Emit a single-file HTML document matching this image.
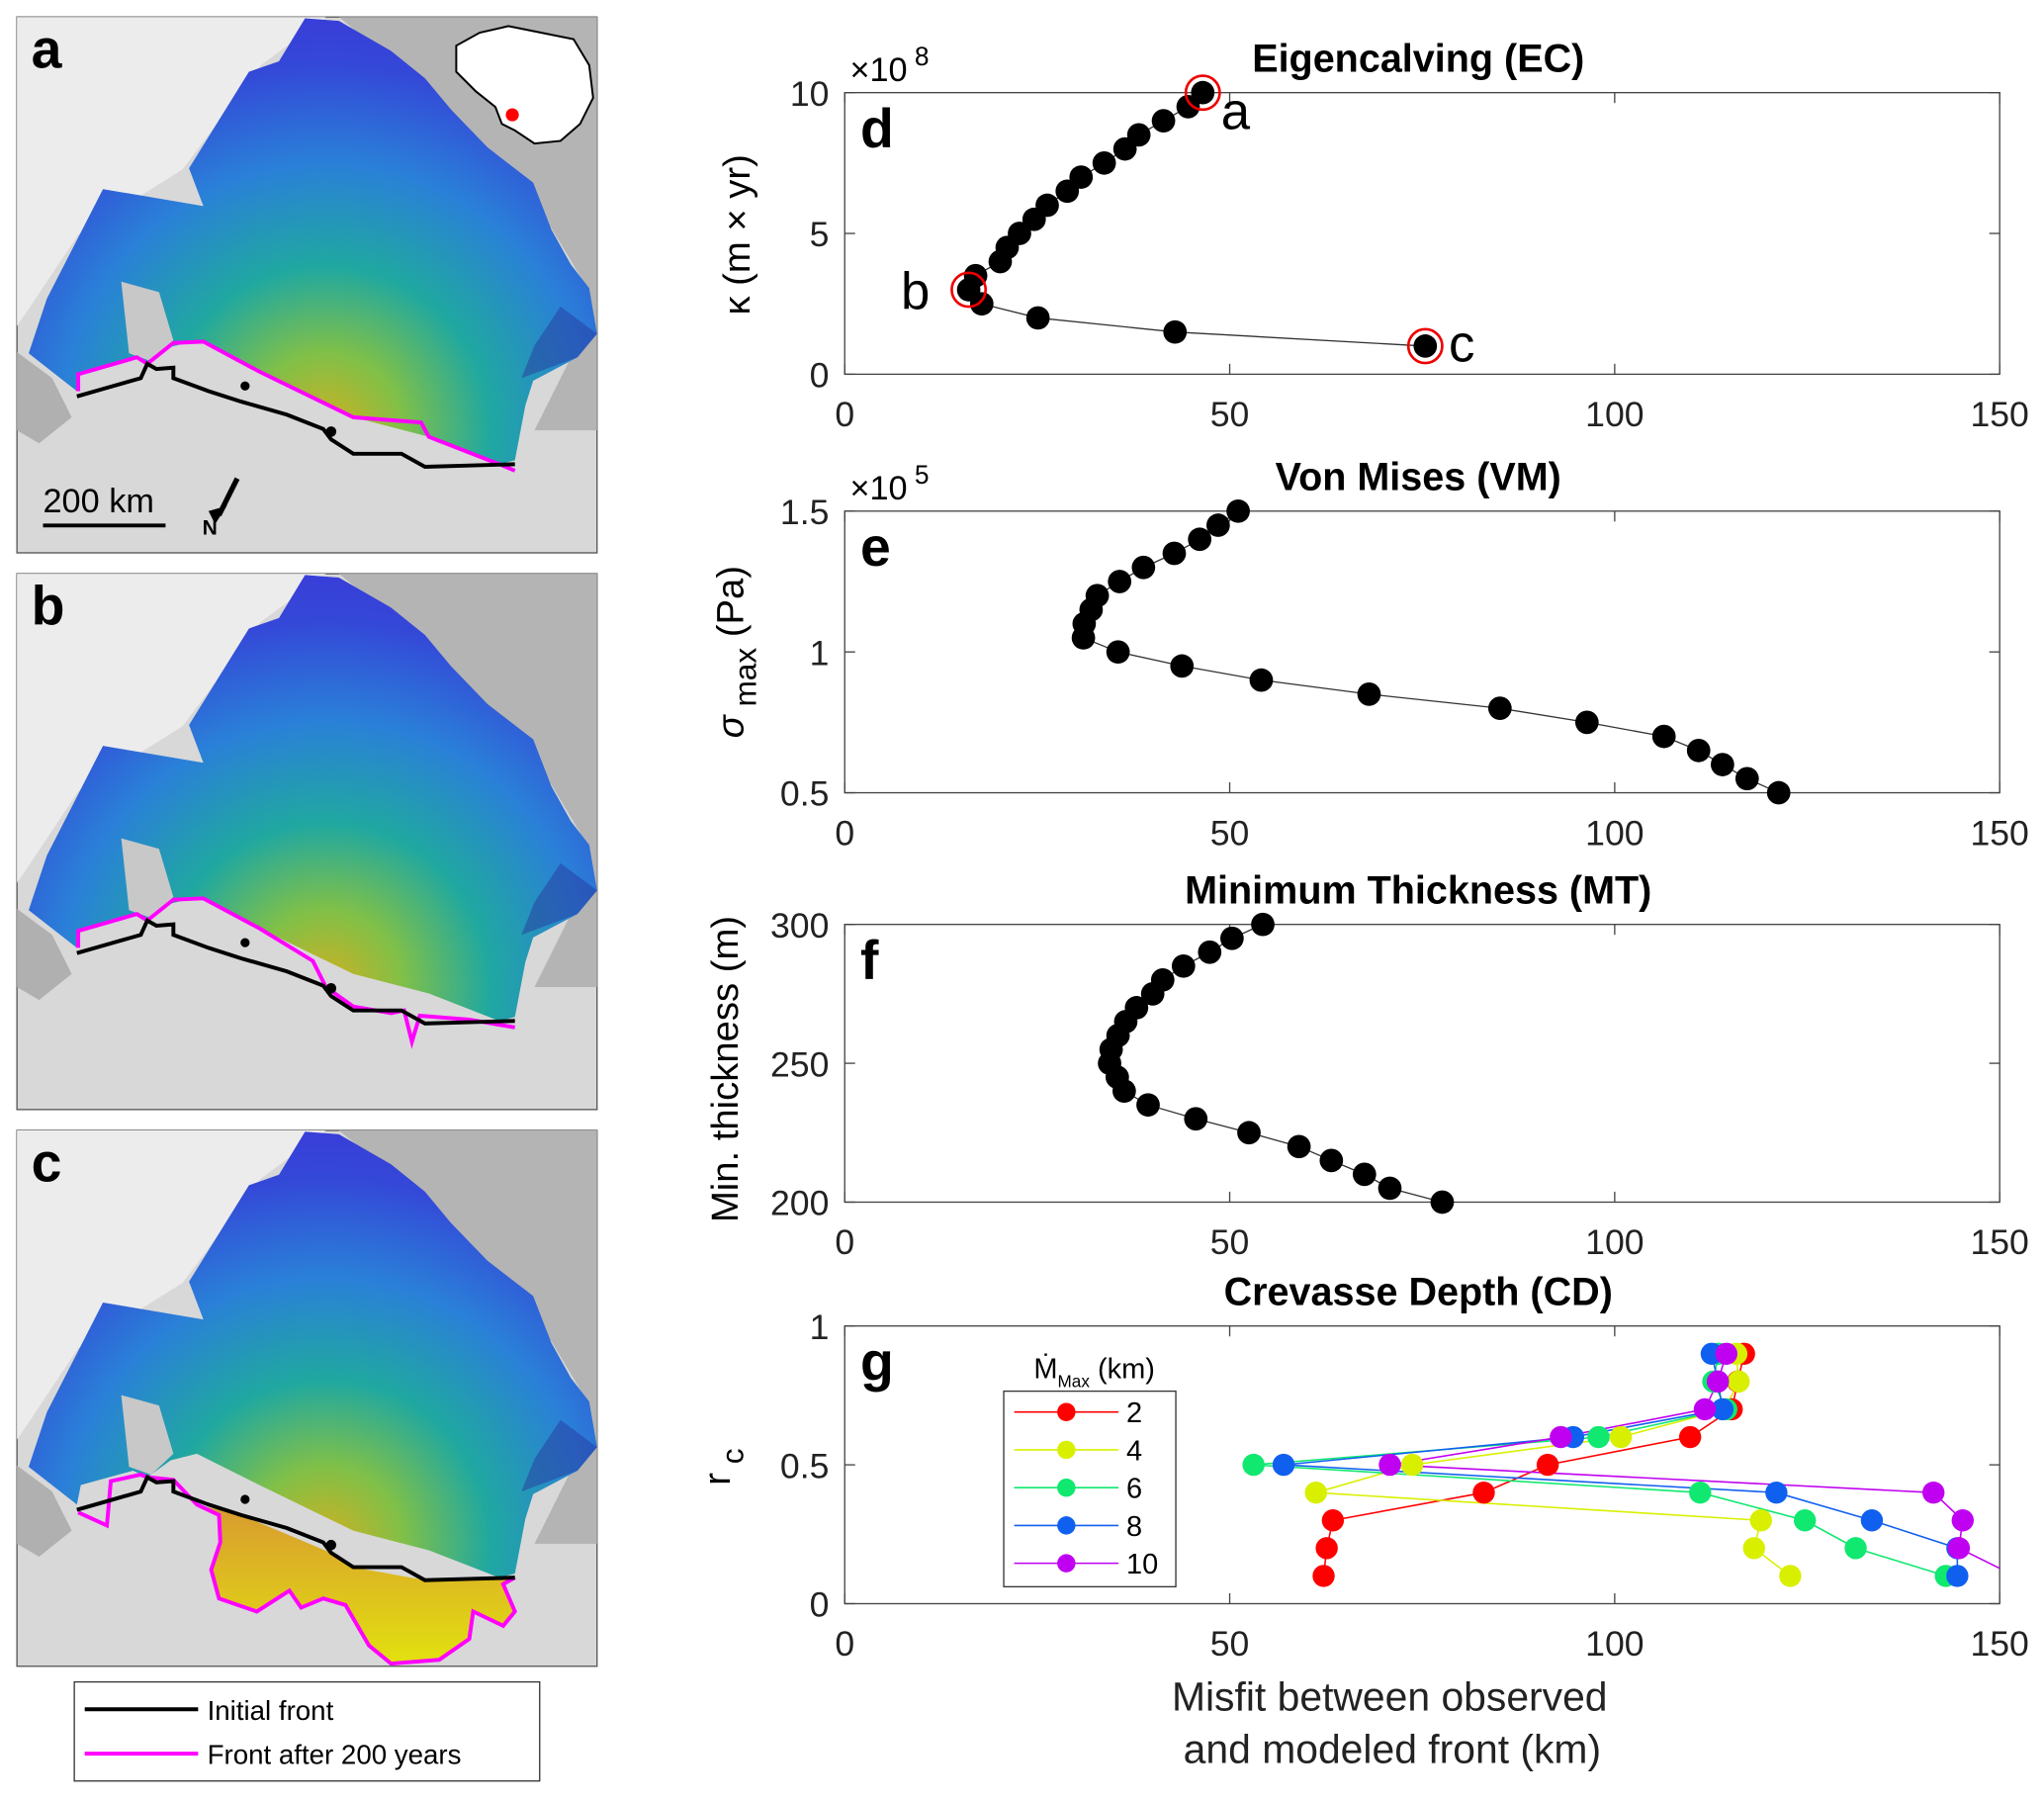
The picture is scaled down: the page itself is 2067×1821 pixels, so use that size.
<!DOCTYPE html>
<html><head><meta charset="utf-8"><style>
html,body{margin:0;padding:0;background:#fff}
svg{display:block;font-family:"Liberation Sans",sans-serif}
</style></head><body>
<svg id="fig" width="2067" height="1821" viewBox="0 0 1568 1381.3" xmlns="http://www.w3.org/2000/svg">
<defs>
<radialGradient id="ice" cx="250" cy="330" r="330" gradientUnits="userSpaceOnUse">
<stop offset="0" stop-color="#d0b020"/><stop offset="0.18" stop-color="#80c048"/><stop offset="0.38" stop-color="#20a8a0"/><stop offset="0.62" stop-color="#2a80d8"/><stop offset="0.85" stop-color="#3448d8"/><stop offset="1" stop-color="#3a3ad8"/></radialGradient>
<linearGradient id="bulge" x1="0" y1="300" x2="0" y2="420" gradientUnits="userSpaceOnUse"><stop offset="0" stop-color="#d89a30"/><stop offset="1" stop-color="#e2e010"/></linearGradient>
<clipPath id="cg"><rect x="648" y="1017" width="886" height="213"/></clipPath>
</defs>
<g id="maps"></g>
<g>
<rect x="57" y="1290" width="357" height="76" fill="#fff" stroke="#333" stroke-width="1"/>
<line x1="65" y1="1311" x2="152" y2="1311" stroke="#000" stroke-width="3"/>
<text x="159" y="1319" font-size="21">Initial front</text>
<line x1="65" y1="1345" x2="152" y2="1345" stroke="#f0f" stroke-width="3"/>
<text x="159" y="1353" font-size="21">Front after 200 years</text>
</g>
<g id="charts"></g>
</svg>
<script>
// ---- chart data ----
const dX=[46.5,44.6,41.4,38.2,36.4,33.7,30.7,28.9,26.3,24.6,22.7,21.1,20.2,17.0,16.1,17.8,25.1,42.9,75.4];
const dY=[10,9.5,9,8.5,8,7.5,7,6.5,6,5.5,5,4.5,4,3.5,3,2.5,2,1.5,1];
const eX=[51.1,48.5,46.1,42.8,38.8,35.7,32.8,32.0,31.1,31.0,35.5,43.8,54.1,68.1,85.1,96.4,106.4,110.9,114.0,117.2,121.3];
const eY=[1.5,1.45,1.4,1.35,1.3,1.25,1.2,1.15,1.1,1.05,1.0,0.95,0.9,0.85,0.8,0.75,0.7,0.65,0.6,0.55,0.5];
const fX=[54.3,50.3,47.4,44.0,41.3,40.0,37.9,36.5,35.5,34.6,34.4,35.4,36.3,39.4,45.6,52.5,59.0,63.2,67.5,70.8,77.6];
const fY=[300,295,290,285,280,275,270,265,260,255,250,245,240,235,230,225,220,215,210,205,200];
const gY=[0.9,0.8,0.7,0.6,0.5,0.4,0.3,0.2,0.1];
const g2=[116.8,116,115.2,109.8,91.3,83.0,63.4,62.6,62.2];
const g4=[115.8,116.1,114.3,100.8,73.7,61.2,119.0,118.1,122.8];
const g6=[113.5,112.8,114.5,97.9,53.1,111.1,124.7,131.3,143.0];
const g8=[112.6,113.4,114.0,94.6,57.0,121.0,133.4,144.5,144.5];
const g10=[114.5,113.4,111.7,93.0,70.8,141.4,145.2,144.7,152];
const xTicks=[0,50,100,150];
const NS='http://www.w3.org/2000/svg';
function mk(tag,attrs,parent,txt){const e=document.createElementNS(NS,tag);for(const k in attrs)e.setAttribute(k,attrs[k]);if(txt!==undefined)e.textContent=txt;parent.appendChild(e);return e;}
const charts=document.getElementById('charts');
const L=648,R=1534;
function sx(v){return L+v/150*(R-L);}
function axes(g,top,bot,y0,y1,yt,ytl){
  const sy=v=>bot-(v-y0)/(y1-y0)*(bot-top);
  mk('rect',{x:L,y:top,width:R-L,height:bot-top,fill:'none',stroke:'#444','stroke-width':1},g);
  xTicks.forEach(t=>{const x=sx(t);
    mk('line',{x1:x,y1:bot,x2:x,y2:bot-8,stroke:'#444'},g);
    mk('line',{x1:x,y1:top,x2:x,y2:top+8,stroke:'#444'},g);
    const tl=mk('text',{x:x,y:bot+40,'font-size':27,'text-anchor':'middle',fill:'#222'},g,String(t));
    
    
  });
  yt.forEach((t,i)=>{const y=sy(t);
    mk('line',{x1:L,y1:y,x2:L+8,y2:y,stroke:'#444'},g);
    mk('line',{x1:R,y1:y,x2:R-8,y2:y,stroke:'#444'},g);
    const tl=mk('text',{x:L-12,y:y+10,'font-size':27,'text-anchor':'end',fill:'#222'},g,ytl[i]);
    
    
  });
  return sy;
}
function blackSeries(g,xs,ys,sy,r){
  let p='';xs.forEach((v,i)=>{p+=(i?'L':'M')+sx(v)+' '+sy(ys[i]);});
  mk('path',{d:p,fill:'none',stroke:'#333','stroke-width':1},g);
  xs.forEach((v,i)=>{const c=mk('circle',{cx:sx(v),cy:sy(ys[i]),r:r,fill:'#000'},g);
    
    });
}
function panel(name,title,top,bot,letter){
  const g=mk('g',{},charts);
  
  
  const t=mk('text',{x:1088,y:top-16,'font-size':30,'font-weight':'bold','text-anchor':'middle'},g,title);
  
  
  const l=mk('text',{x:660,y:top+42,'font-size':42,'font-weight':'bold'},g,letter);
  
  
  return g;
}
// d
let g=panel('chart-eigencalving','Eigencalving (EC)',71,287,'d');
let sy=axes(g,71,287,0,10,[0,5,10],['0','5','10']);
blackSeries(g,dX,dY,sy,9);
[[0,'a',14,28],[14,'b',-52,15],[18,'c',18,12]].forEach(([i,lab,dx,dy])=>{
  mk('circle',{cx:sx(dX[i]),cy:sy(dY[i]),r:13,fill:'none',stroke:'#e00','stroke-width':2},g);
  mk('text',{x:sx(dX[i])+dx,y:sy(dY[i])+dy,'font-size':40},g,lab);
});
let ex=mk('text',{x:652,y:62,'font-size':26},g);ex.innerHTML='×10<tspan dy="-12" font-size="20"> 8</tspan>';
let yl=mk('text',{transform:'translate(575,180) rotate(-90)','font-size':29,'text-anchor':'middle'},g,'κ  (m × yr)');

// e
g=panel('chart-von-mises','Von Mises (VM)',392,608,'e');
sy=axes(g,392,608,0.5,1.5,[0.5,1,1.5],['0.5','1','1.5']);
blackSeries(g,eX,eY,sy,9);
ex=mk('text',{x:652,y:383,'font-size':26},g);ex.innerHTML='×10<tspan dy="-12" font-size="20"> 5</tspan>';
yl=mk('text',{transform:'translate(570,500) rotate(-90)','font-size':29,'text-anchor':'middle'},g);
yl.innerHTML='<tspan font-style="italic">σ</tspan><tspan dy="10" font-size="24"> max</tspan><tspan dy="-10">  (Pa)</tspan>';

// f
g=panel('chart-min-thickness','Minimum Thickness (MT)',709,922,'f');
sy=axes(g,709,922,200,300,[200,250,300],['200','250','300']);
blackSeries(g,fX,fY,sy,9);
yl=mk('text',{transform:'translate(566,820) rotate(-90)','font-size':29,'text-anchor':'middle'},g,'Min. thickness (m)');

// g
g=panel('chart-crevasse-depth','Crevasse Depth (CD)',1017,1230,'g');
sy=axes(g,1017,1230,0,1,[0,0.5,1],['0','0.5','1']);
const gSeries=[[g2,'#ff0000','2'],[g4,'#d8f000','4'],[g6,'#10e870','6'],[g8,'#1060f0','8'],[g10,'#c000f0','10']];
const cg=mk('g',{'clip-path':'url(#cg)'},g);
gSeries.forEach(([xs,col,lab])=>{
  let p='';xs.forEach((v,i)=>{p+=(i?'L':'M')+sx(v)+' '+sy(gY[i]);});
  const pl=mk('path',{d:p,fill:'none',stroke:col,'stroke-width':1.2},cg);
  
  
});
gSeries.forEach(([xs,col,lab])=>{
  xs.forEach((v,i)=>{if(v>150)return;const c=mk('circle',{cx:sx(v),cy:sy(gY[i]),r:8.5,fill:col},g);
    
    });
});
const lg=mk('g',{},g);


mk('rect',{x:770,y:1067,width:132,height:150,fill:'#fff',stroke:'#333'},lg);
const lt=mk('text',{x:793,y:1057,'font-size':22},lg);lt.innerHTML='Ṁ<tspan dy="7" font-size="13">Max</tspan><tspan dy="-7"> (km)</tspan>';
gSeries.forEach(([xs,col,lab],i)=>{const y=1083+i*29;
  const e=mk('g',{},lg);
  
  
  mk('line',{x1:778,y1:y,x2:858,y2:y,stroke:col,'stroke-width':1.2},e);
  mk('circle',{cx:818,cy:y,r:7,fill:col},e);
  mk('text',{x:864,y:y+8,'font-size':22},e,lab);
});
yl=mk('text',{transform:'translate(560,1125) rotate(-90)','font-size':29,'text-anchor':'middle'},g);
yl.innerHTML='r<tspan dy="10" font-size="24"> c</tspan>';

const xt=mk('text',{x:1066,y:1312,'font-size':31,'text-anchor':'middle',fill:'#222'},charts,'Misfit between observed');

const xt2=mk('text',{x:1068,y:1352,'font-size':31,'text-anchor':'middle',fill:'#222'},charts,'and modeled front (km)');


// ---- maps ----
const maps=document.getElementById('maps');
const icePts='234,14 260,16 300,39 326,60 346,84 374,113 409,140 423,176 438,203 452,221 458,256 443,274 409,292 403,311 395,353 383,356 329,335 271,320 199,285 151,261 131,266 113,279 102,274 62,285 59,300 22,271 36,229 79,145 156,158 145,129 191,55 214,47';
const island='93,216 122,224 133,261 116,277 99,271';
const black='59,304 80,298 108,290 113,279 120,283 133,282 133,290 160,300 185,308 220,318 248,329 254,337 271,348 308,348 326,358 360,357 395,356';
const magA='60,300 60,287 105,274 113,279 133,263 156,262 199,285 271,320 323,324 329,335 383,356 395,361';
const magB='60,300 60,287 105,274 113,279 133,263 156,262 199,285 240,310 250,330 271,345 300,350 310,348 316,372 322,352 360,355 395,361';
const magC='60,306 82,316 85,282 108,277 113,279 133,281 151,300 168,308 169,329 162,350 168,372 197,382 222,366 231,379 248,372 265,377 283,408 300,422 337,419 360,403 363,382 386,393 395,382 386,361 395,356';
const bulgeC='151,300 168,308 169,329 162,350 168,372 197,382 222,366 231,379 248,372 265,377 283,408 300,422 337,419 360,403 363,382 386,393 395,382 386,361 395,356 326,358 271,348 254,337 185,308';
['a','b','c'].forEach((L2,i)=>{
  const oy=i*427;
  const mg=mk('g',{transform:'translate(0,'+oy+')'},maps);
  
  
  mk('rect',{x:13,y:13,width:445,height:411,fill:'#d8d8d8',stroke:'#555','stroke-width':1},mg);
  mk('path',{d:'M13 13 H250 L200 50 L140 130 L60 180 L20 240 L13 250 Z',fill:'#ececec'},mg);
  mk('path',{d:'M260 13 H458 V330 L410 330 L440 270 L450 220 L420 170 L380 120 L330 70 Z',fill:'#b4b4b4'},mg);
  mk('path',{d:'M13 270 L40 290 L55 320 L30 340 L13 330 Z',fill:'#b0b0b0'},mg);
  mk('polygon',{points:icePts,fill:'url(#ice)'},mg);
  mk('polygon',{points:'400,290 443,274 458,256 430,235 410,265',fill:'#28309a',opacity:0.45},mg);
  mk('polygon',{points:island,fill:'#c8c8c8'},mg);
  if(L2==='c'){mk('polygon',{points:bulgeC,fill:'url(#bulge)'},mg);}
  mk('polyline',{points:(L2==='a'?magA:L2==='b'?magB:magC),fill:'none',stroke:'#ff00ff','stroke-width':3},mg);
  mk('polyline',{points:black,fill:'none',stroke:'#000','stroke-width':3},mg);
  mk('circle',{cx:188,cy:296,r:3.5,fill:'#000'},mg);
  mk('circle',{cx:254,cy:331,r:4,fill:'#000'},mg);
  const lt=mk('text',{x:24,y:52,'font-size':42,'font-weight':'bold'},mg,L2);
  
  
  if(i===0){
    mk('path',{d:'M350 35 L368 25 L390 20 L415 25 L440 30 L452 50 L455 75 L445 95 L430 108 L410 110 L395 100 L385 95 L380 82 L365 70 L350 55 Z',fill:'#fff',stroke:'#000','stroke-width':1.5},mg);
    mk('circle',{cx:393,cy:88,r:5,fill:'#f00'},mg);
    mk('text',{x:33,y:393,'font-size':26},mg,'200 km');
    mk('line',{x1:33,y1:403,x2:127,y2:403,stroke:'#000','stroke-width':3},mg);
    mk('line',{x1:182,y1:367,x2:168,y2:395,stroke:'#000','stroke-width':4},mg);
    mk('polygon',{points:'160,392 174,388 165,402',fill:'#000'},mg);
    mk('text',{x:161,y:410,'font-size':16,'font-weight':'bold','text-anchor':'middle'},mg,'N');
  }
});
</script>
</body></html>
